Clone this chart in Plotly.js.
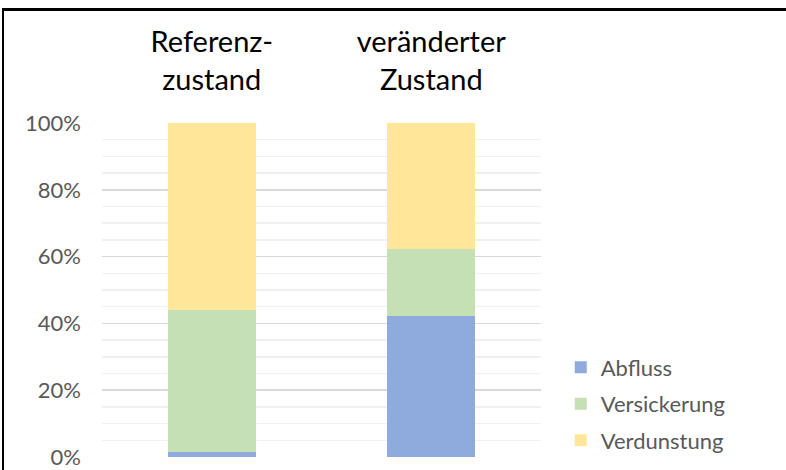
<!DOCTYPE html>
<html>
<head>
<meta charset="utf-8">
<script src="https://cdn.plot.ly/plotly-3.0.1.min.js"></script>
<style>
  html, body { margin: 0; padding: 0; background: #fff; overflow: hidden; }
  #chart { position: absolute; left: 0; top: 0; width: 786px; height: 470px; }
  #edges { position: absolute; left: 2px; top: 8px; width: 790px; height: 470px; border-top: 3px solid #000; border-left: 2px solid #000; box-sizing: border-box; pointer-events: none; }
</style>
</head>
<body>
<div id="chart"></div>
<div id="edges"></div>
<script>
const categories = ["Referenz-<br>zustand", "veränderter<br>Zustand"];
const abfluss = [1.6, 42.2];
const versickerung = [42.4, 20.1];
const verdunstung = [56.0, 37.7];
const yTicks = [0, 20, 40, 60, 80, 100];

const font = "Lato, 'Open Sans', 'Noto Sans', sans-serif";
const traces = [
  { name: "Abfluss", y: abfluss, color: "#8faadc" },
  { name: "Versickerung", y: versickerung, color: "#c5e0b4" },
  { name: "Verdunstung", y: verdunstung, color: "#ffe699" }
].map(s => ({
  type: "bar",
  x: categories,
  y: s.y,
  name: s.name,
  legendgroup: s.name,
  marker: { color: s.color, line: { width: 0 } },
  hoverinfo: "none"
}));

const layout = {
  width: 786,
  height: 470,
  margin: { l: 102, r: 245, t: 123, b: 13, pad: 0, autoexpand: false },
  paper_bgcolor: "#ffffff",
  plot_bgcolor: "#ffffff",
  barmode: "stack",
  bargap: 0.6,
  showlegend: true,
  font: { family: font, color: "#595959" },
  xaxis: {
    side: "top",
    showgrid: false,
    zeroline: false,
    showline: false,
    ticks: "",
    ticklabelstandoff: 26,
    tickfont: { family: font, size: 29, color: "#000000" }
  },
  yaxis: {
    range: [0, 100],
    tickvals: yTicks,
    ticktext: yTicks.map(v => v + "%"),
    showgrid: true,
    gridcolor: "#d9d9d9",
    gridwidth: 1.5,
    zeroline: false,
    showline: false,
    ticks: "",
    ticklabelstandoff: 20,
    tickfont: { family: font, size: 22, color: "#595959" },
    minor: { dtick: 5, showgrid: true, gridcolor: "#f0f0f0", gridwidth: 1.5 }
  },
  legend: {
    traceorder: "grouped",
    x: 1.045,
    xanchor: "left",
    y: -0.013,
    yanchor: "bottom",
    font: { family: font, size: 22, color: "#595959" },
    itemwidth: 30,
    tracegroupgap: 5,
    bgcolor: "rgba(0,0,0,0)"
  }
};

Plotly.newPlot("chart", traces, layout, { staticPlot: true, displayModeBar: false });
</script>
</body>
</html>
